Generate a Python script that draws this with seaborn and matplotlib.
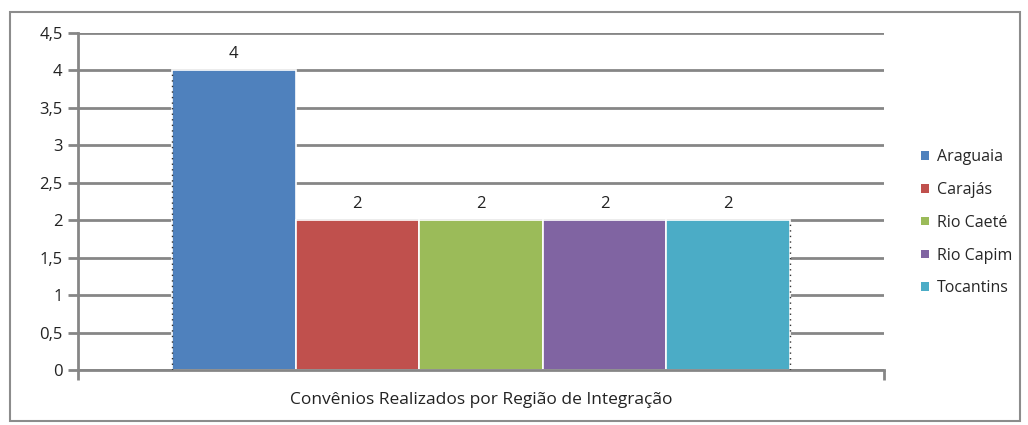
import matplotlib
matplotlib.use("Agg")
import matplotlib.pyplot as plt
import seaborn as sns
import pandas as pd
from matplotlib.patches import Rectangle

regions = ["Araguaia", "Carajás", "Rio Caeté", "Rio Capim", "Tocantins"]
values = [4, 2, 2, 2, 2]
colors = ["#4F81BD", "#C0504D", "#9BBB59", "#8064A2", "#4BACC6"]
yticks = [0, 0.5, 1, 1.5, 2, 2.5, 3, 3.5, 4, 4.5]
ytick_labels = ["0", "0,5", "1", "1,5", "2", "2,5", "3", "3,5", "4", "4,5"]
xlabel = "Convênios Realizados por Região de Integração"

df = pd.DataFrame({"grupo": [""] * len(regions), "Região": regions, "Convênios": values})

sns.set_theme(style="white")
plt.rcParams["font.family"] = ["Open Sans", "DejaVu Sans"]

fig = plt.figure(figsize=(10.28, 4.25), dpi=100)
ax = fig.add_axes([78 / 1028, 55 / 425, (884 - 78) / 1028, (370 - 33) / 425])

sns.barplot(data=df, x="grupo", y="Convênios", hue="Região", hue_order=regions,
            palette=colors, width=0.767, gap=0, ax=ax, saturation=1,
            edgecolor="white", linewidth=1.2, legend=True)

ax.set_xlim(-0.5, 0.5)
ax.set_ylim(0, 4.5)
ax.set_yticks(yticks)
ax.set_yticklabels(ytick_labels, fontsize=12, color="#222222")
ax.set_xticks([-0.5, 0.5])
ax.set_xticklabels(["", ""])
ax.tick_params(axis="y", direction="out", length=7, width=2, color="#868686", pad=4, left=True)
ax.tick_params(axis="x", direction="out", length=7, width=2, color="#868686", bottom=True)
ax.yaxis.grid(True, color="#868686", linewidth=2)
ax.set_axisbelow(True)
for s in ["top", "right"]:
    ax.spines[s].set_visible(False)
for s in ["left", "bottom"]:
    ax.spines[s].set_color("#868686")
    ax.spines[s].set_linewidth(2)
ax.set_xlabel(xlabel, fontsize=12.5, color="#222222", labelpad=5)
ax.set_ylabel("")

# value labels
for cont in ax.containers:
    ax.bar_label(cont, labels=[f"{v:g}" for v in cont.datavalues], padding=6, fontsize=12, color="#222222")

# dotted drop lines at group edges
patches = [p for c in ax.containers for p in c]
left_edge = min(p.get_x() for p in patches)
right_edge = max(p.get_x() + p.get_width() for p in patches)
ax.vlines([left_edge], 0, values[0], colors="#333333", linestyles=(0, (1, 3)), linewidth=1, zorder=3)
ax.vlines([right_edge], 0, values[-1], colors="#333333", linestyles=(0, (1, 3)), linewidth=1, zorder=3)

leg = ax.legend(loc="center left", bbox_to_anchor=((915 - 78) / 806, 0.437),
                frameon=False, fontsize=11.5, handlelength=0.45, handleheight=0.45,
                handletextpad=0.5, labelspacing=1.05, borderaxespad=0)
for h in leg.legend_handles:
    h.set_edgecolor("none")

fig.patches.append(Rectangle((10 / 1028, 4 / 425), 1010 / 1028, 409 / 425, transform=fig.transFigure,
                             fill=False, edgecolor="#8c8c8c", linewidth=1.5))

fig.savefig("out.png", dpi=100)
